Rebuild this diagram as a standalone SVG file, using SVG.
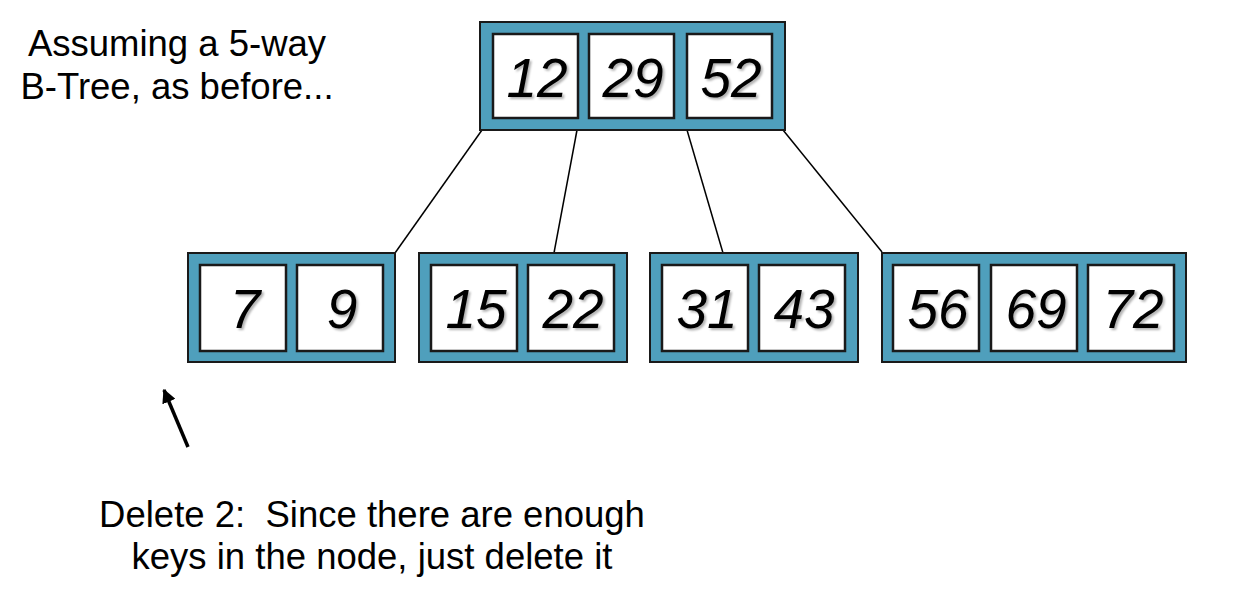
<svg xmlns="http://www.w3.org/2000/svg" width="1244" height="608" viewBox="0 0 1244 608">
<style>
.outer{fill:#4f9fbc;stroke:#1a1a1a;stroke-width:2}
.key{fill:#ffffff;stroke:#1a1a1a;stroke-width:2.5}
.num{font-family:"Liberation Sans",Arial,sans-serif;font-style:italic;font-size:55px;fill:#000;text-anchor:middle;filter:url(#sh)}
.lbl{font-family:"Liberation Sans",Arial,sans-serif;font-size:36.5px;fill:#000;text-anchor:middle}
.edge{stroke:#000;stroke-width:1.5;fill:none}
</style>
<defs>
<filter id="sh" x="-20%" y="-20%" width="140%" height="140%">
<feDropShadow dx="2" dy="2" stdDeviation="1.2" flood-color="#000" flood-opacity="0.3"/>
</filter>
<marker id="ah" viewBox="0 0 10 10" refX="9" refY="5" markerWidth="4" markerHeight="4" orient="auto" markerUnits="strokeWidth">
<path d="M0,0 L10,5 L0,10 Z" fill="#000"/>
</marker>
</defs>
<g id="connectors">
<line class="edge" x1="482" y1="130" x2="395" y2="253"/>
<line class="edge" x1="577" y1="130" x2="554" y2="253"/>
<line class="edge" x1="687" y1="130" x2="723" y2="253"/>
<line class="edge" x1="783" y1="130" x2="882" y2="252"/>
<line x1="188" y1="447" x2="164" y2="390" stroke="#000" stroke-width="3.5" marker-end="url(#ah)"/>
</g>
<g id="root">
<rect class="outer" x="480" y="22" width="305" height="108"/>
<rect class="key" x="493" y="34" width="85" height="84"/>
<rect class="key" x="589" y="34" width="85" height="84"/>
<rect class="key" x="687" y="34" width="85" height="84"/>
<text class="num" x="537" y="97">12</text>
<text class="num" x="633" y="97">29</text>
<text class="num" x="731" y="97">52</text>
</g>
<g id="leaf1">
<rect class="outer" x="188" y="253" width="207" height="109"/>
<rect class="key" x="200" y="265" width="86" height="86"/>
<rect class="key" x="297" y="265" width="86" height="86"/>
<text class="num" x="245" y="328">7</text>
<text class="num" x="342" y="328">9</text>
</g>
<g id="leaf2">
<rect class="outer" x="419" y="253" width="208" height="109"/>
<rect class="key" x="431" y="265" width="86" height="86"/>
<rect class="key" x="528" y="265" width="86" height="86"/>
<text class="num" x="476" y="328">15</text>
<text class="num" x="573" y="328">22</text>
</g>
<g id="leaf3">
<rect class="outer" x="650" y="253" width="208" height="109"/>
<rect class="key" x="662" y="265" width="86" height="86"/>
<rect class="key" x="759" y="265" width="86" height="86"/>
<text class="num" x="707" y="328">31</text>
<text class="num" x="804" y="328">43</text>
</g>
<g id="leaf4">
<rect class="outer" x="882" y="253" width="304" height="109"/>
<rect class="key" x="893" y="265" width="86" height="86"/>
<rect class="key" x="991" y="265" width="86" height="86"/>
<rect class="key" x="1088" y="265" width="86" height="86"/>
<text class="num" x="938" y="328">56</text>
<text class="num" x="1036" y="328">69</text>
<text class="num" x="1133" y="328">72</text>
</g>
<g id="note-top">
<text class="lbl" x="177" y="56">Assuming a 5-way</text>
<text class="lbl" x="177" y="99">B-Tree, as before...</text>
</g>
<g id="note-bottom">
<text class="lbl" x="372" y="527" xml:space="preserve">Delete 2:  Since there are enough</text>
<text class="lbl" x="372" y="569">keys in the node, just delete it</text>
</g>
</svg>
